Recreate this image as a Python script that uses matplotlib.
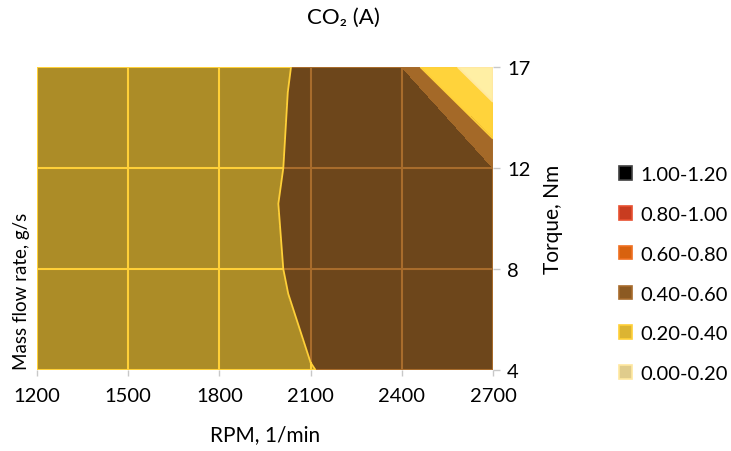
import numpy as np
import matplotlib
matplotlib.use('Agg')
import matplotlib.pyplot as plt
import matplotlib.tri as mtri
from matplotlib.collections import LineCollection
from matplotlib.patches import Patch
from matplotlib.colors import to_rgb

rpm = [1200, 1500, 1800, 2100, 2400, 2700]
torque = [4, 8, 12, 17]
# CO2 (A), one list per torque row
co2_t4 = [0.30, 0.28, 0.246, 0.396, 0.47, 0.50]
co2_t8 = [0.30, 0.29, 0.283, 0.45, 0.50, 0.52]
co2_t12 = [0.29, 0.27, 0.25, 0.464, 0.52, 0.56]
co2_t17 = [0.27, 0.25, 0.217, 0.45, 0.50, 0.01]

levels = [0.0, 0.2, 0.4, 0.6, 0.8, 1.0, 1.2]
band_labels = ['0.00-0.20', '0.20-0.40', '0.40-0.60', '0.60-0.80', '0.80-1.00', '1.00-1.20']
band_fill = ['#E0CC8C', '#DCB432', '#8C5A22', '#D8620F', '#C83C20', '#000000']
band_line = ['#FFE8A0', '#FFD038', '#A86C2C', '#F07020', '#E85030', '#404040']

plt.rcParams['font.family'] = ['Lato', 'DejaVu Sans']
plt.rcParams['font.size'] = 15

z = np.array([co2_t4, co2_t8, co2_t12, co2_t17])
ny, nx = z.shape
xx, yy = np.meshgrid(np.arange(nx, dtype=float), np.arange(ny, dtype=float))
px, py, pz = xx.ravel(), yy.ravel(), z.ravel()

# split every cell into two triangles along the "higher" diagonal
tris = []
for j in range(ny - 1):
    for i in range(nx - 1):
        bl, br = j * nx + i, j * nx + i + 1
        tl, tr = (j + 1) * nx + i, (j + 1) * nx + i + 1
        if pz[bl] + pz[tr] >= pz[tl] + pz[br]:
            tris += [[bl, br, tr], [bl, tr, tl]]
        else:
            tris += [[bl, br, tl], [tl, br, tr]]
tri = mtri.Triangulation(px, py, tris)


def shade(t):
    # facets sloping down towards the top right catch the light
    a = np.c_[px[t], py[t], np.ones(3)]
    gx, gy, _ = np.linalg.solve(a, pz[t])
    return 0.78 + 0.83 * max(0.0, -(gx + gy) / 2 - 0.05)


fig = plt.figure(figsize=(7.31, 4.52), dpi=100)
ax = fig.add_axes([0.0506, 0.1792, 0.6238, 0.6704])

for t in tris:
    f = shade(t)
    cols = [tuple(np.clip(np.array(to_rgb(c)) * f, 0, 1)) for c in band_fill]
    one = mtri.Triangulation(px[t], py[t], [[0, 1, 2]])
    ax.tricontourf(one, pz[t], levels=levels, colors=cols, antialiased=False)

# wireframe on the surface, coloured by band
interp = mtri.LinearTriInterpolator(tri, pz)
eps = 1e-6
s = np.linspace(0, 1, 400)
segs = []
for i in range(nx):
    xv = min(max(i, eps), nx - 1 - eps)
    segs.append(np.c_[np.full_like(s, xv), eps + s * (ny - 1 - 2 * eps)])
for j in range(ny):
    yv = min(max(j, eps), ny - 1 - eps)
    segs.append(np.c_[eps + s * (nx - 1 - 2 * eps), np.full_like(s, yv)])
lines, lcols = [], []
for pts in segs:
    mid = (pts[1:] + pts[:-1]) / 2
    zm = interp(mid[:, 0], mid[:, 1])
    k = np.clip(np.digitize(zm, levels[1:-1]), 0, 5)
    for n in range(len(mid)):
        lines.append([pts[n], pts[n + 1]])
        lcols.append(band_line[k[n]])
ax.add_collection(LineCollection(lines, colors=lcols, linewidths=1.5, zorder=3))

ax.tricontour(tri, pz, levels=levels[1:-1], colors=band_line[:5], linewidths=1.3, zorder=4)

ax.set_xlim(0, nx - 1)
ax.set_ylim(0, ny - 1)
for sp in ax.spines.values():
    sp.set_visible(False)
ax.set_xticks(range(nx))
ax.set_xticklabels([str(v) for v in rpm])
ax.set_yticks(range(ny))
ax.set_yticklabels([str(v) for v in torque])
ax.yaxis.tick_right()
ax.yaxis.set_label_position('right')
ax.tick_params(axis='x', length=4, width=1, color='#C8C8C8', pad=8, labelsize=14.5)
ax.tick_params(axis='y', length=5, width=1, color='#C8C8C8', pad=5, labelsize=14.5)
ax.set_xlabel('RPM, 1/min', fontsize=15, labelpad=15)
ax.set_ylabel('Torque, Nm', fontsize=15, labelpad=9)

fig.text(0.030, 0.181, 'Mass flow rate, g/s', rotation=90, ha='center', va='bottom', fontsize=13.5)
fig.text(0.470, 0.960, 'CO\u2082 (A)', ha='center', va='center', fontsize=16)

handles = [Patch(facecolor=band_fill[k], edgecolor=band_line[k], linewidth=1.2, label=band_labels[k])
           for k in range(5, -1, -1)]
fig.legend(handles=handles, loc='upper left', bbox_to_anchor=(0.847, 0.630), frameon=False,
           handlelength=0.65, handleheight=0.65, handletextpad=0.4, labelspacing=1.13,
           borderpad=0, borderaxespad=0, fontsize=14.5)

fig.savefig('out.png', dpi=100)
